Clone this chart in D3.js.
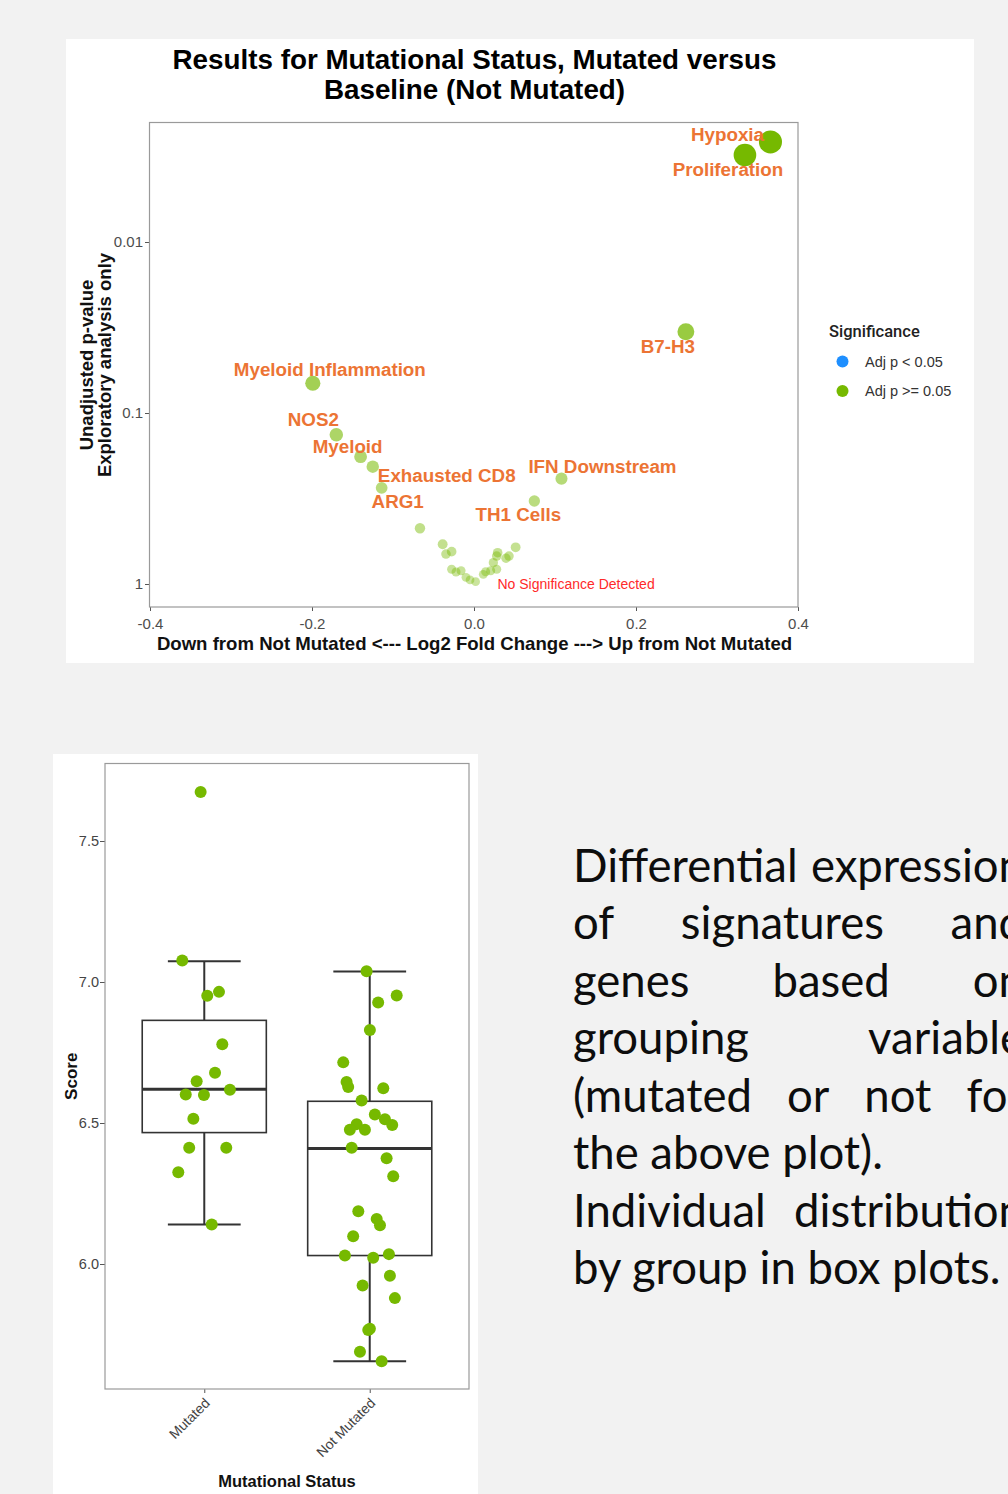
<!DOCTYPE html>
<html>
<head>
<meta charset="utf-8">
<script src="https://cdn.jsdelivr.net/npm/d3@7"></script>
<style>
  html, body { margin: 0; padding: 0; background: #f2f2f2; }
  svg { display: block; }
</style>
</head>
<body>
<svg id="chart" width="1008" height="1494"></svg>
<script>
// ---------------- DATA ----------------
// Volcano plot (Mutated vs Not Mutated)
const volcanoNames = ["Hypoxia","Proliferation","B7-H3","Myeloid Inflammation","NOS2","Myeloid",
  "Exhausted CD8","ARG1","IFN Downstream","TH1 Cells",
  "","","","","","","","","","","","","","","","","","","",""];
const volcanoLog2FC = [0.366, 0.3345, 0.2616, -0.199, -0.170, -0.140, -0.125, -0.114, 0.108, 0.0745,
  -0.0667, -0.0387, -0.0346, -0.0276, -0.0276, -0.0222, -0.016, -0.0099, -0.0049, 0.002,
  0.0115, 0.0144, 0.0206, 0.0239, 0.028, 0.0292, 0.028, 0.0395, 0.0432, 0.0514];
const volcanoPValues = [0.0026, 0.0031, 0.0335, 0.067, 0.134, 0.18, 0.206, 0.274, 0.242, 0.327,
  0.472, 0.586, 0.668, 0.647, 0.82, 0.851, 0.836, 0.914, 0.947, 0.969,
  0.878, 0.848, 0.836, 0.75, 0.686, 0.656, 0.82, 0.707, 0.686, 0.61];
const volcanoXTicks = [-0.4, -0.2, 0.0, 0.2, 0.4];
const volcanoYTicks = [0.01, 0.1, 1];
const legendLabels = ["Adj p < 0.05", "Adj p >= 0.05"];

// Box plot (Score by Mutational Status)
const groups = ["Mutated", "Not Mutated"];
const mutatedScores = [7.674, 7.076, 6.965, 6.951, 6.779, 6.648, 6.678, 6.601, 6.599, 6.618, 6.515, 6.412, 6.412, 6.325, 6.14];
const mutatedJitter = [-0.022, -0.133, 0.089, 0.018, 0.109, -0.046, 0.065, -0.112, -0.002, 0.155, -0.066, -0.091, 0.133, -0.157, 0.045];
const notMutatedScores = [7.038, 6.927, 6.952, 6.83, 6.715, 6.645, 6.628, 6.623, 6.58, 6.53, 6.513, 6.493, 6.496, 6.476, 6.476, 6.412,
  6.375, 6.311, 6.187, 6.16, 6.137, 6.098, 6.03, 6.022, 6.035, 5.958, 5.924, 5.879, 5.77, 5.766, 5.689, 5.655];
const notMutatedJitter = [-0.019, 0.051, 0.163, 0.001, -0.160, -0.140, -0.130, 0.082, -0.049, 0.031, 0.092, 0.136, -0.079, -0.120, -0.029, -0.109,
  0.102, 0.142, -0.069, 0.042, 0.062, -0.100, -0.150, 0.021, 0.116, 0.122, -0.043, 0.152, 0.001, -0.009, -0.059, 0.072];
const boxLower  = [6.14, 5.655];
const boxQ1     = [6.466, 6.03];
const boxMedian = [6.62, 6.41];
const boxQ3     = [6.864, 6.577];
const boxUpper  = [7.074, 7.037];
const scoreTicks = [6.0, 6.5, 7.0, 7.5];

// Side text
const paragraphLines = [
  ["Differential expression", true],
  ["of signatures and", true],
  ["genes based on", true],
  ["grouping variable", true],
  ["(mutated or not for", true],
  ["the above plot).", false],
  ["Individual distribution", true],
  ["by group in box plots.", false]
];

// ---------------- LAYOUT ----------------
const labelOffsets = {
  "Hypoxia": [-43, -1], "Proliferation": [-17, 21], "B7-H3": [-18, 21],
  "Myeloid Inflammation": [17, -7], "NOS2": [-23, -9], "Myeloid": [-13, -4],
  "Exhausted CD8": [74, 15], "ARG1": [16, 20], "IFN Downstream": [41, -6], "TH1 Cells": [-16, 20]
};
const GREEN = "#76b900", BLUE = "#1e8fff", ORANGE = "#ec7434";
const SANS = "'Liberation Sans', Arial, Helvetica, sans-serif";

const svg = d3.select("#chart");

// ================= VOLCANO =================
const volG = svg.append("g").attr("font-family", SANS);
volG.append("rect").attr("x", 66).attr("y", 39).attr("width", 908).attr("height", 624).attr("fill", "#fff");

const vx = d3.scaleLinear().domain([-0.4, 0.4]).range([150, 798]);
const vy = d3.scaleLog().domain([1, 0.01]).range([584, 242]);
const plotL = 149.5, plotR = 798, plotT = 122.5, plotB = 607;

volG.append("text").attr("x", 474.5).attr("y", 69).attr("text-anchor", "middle")
  .attr("font-size", 27.8).attr("font-weight", "bold").attr("fill", "#000")
  .text("Results for Mutational Status, Mutated versus");
volG.append("text").attr("x", 474.5).attr("y", 99).attr("text-anchor", "middle")
  .attr("font-size", 27.8).attr("font-weight", "bold").attr("fill", "#000")
  .text("Baseline (Not Mutated)");

const xAx = volG.append("g").attr("transform", `translate(0,${plotB})`)
  .call(d3.axisBottom(vx).tickValues(volcanoXTicks).tickFormat(d => d.toFixed(1)).tickSize(4).tickPadding(7.5));
const yAx = volG.append("g").attr("transform", `translate(${plotL - 0.5},0)`)
  .call(d3.axisLeft(vy).tickValues(volcanoYTicks).tickFormat(d => d3.format("~g")(d)).tickSize(4).tickPadding(2));
[xAx, yAx].forEach(a => {
  a.select(".domain").remove();
  a.selectAll(".tick line").attr("stroke", "#555");
  a.selectAll(".tick text").attr("font-size", 15).attr("fill", "#4d4d4d").attr("font-family", SANS);
});

const nlp = volcanoPValues.map(p => -Math.log10(p));
const vIdx = d3.range(volcanoNames.length).sort((a, b) => nlp[a] - nlp[b]);
volG.append("g").selectAll("circle").data(vIdx).join("circle")
  .attr("cx", i => vx(volcanoLog2FC[i]))
  .attr("cy", i => vy(volcanoPValues[i]))
  .attr("r", i => 4.3 + 2.8 * nlp[i])
  .attr("fill", GREEN)
  .attr("fill-opacity", i => Math.min(1, 0.38 + 0.62 * nlp[i] / 2.5));

volG.append("rect").attr("x", plotL).attr("y", plotT).attr("width", plotR - plotL).attr("height", plotB - plotT)
  .attr("fill", "none").attr("stroke", "#9a9a9a").attr("stroke-width", 1.2);

volG.append("g").selectAll("text").data(d3.range(volcanoNames.length).filter(i => volcanoNames[i] !== "")).join("text")
  .attr("x", i => vx(volcanoLog2FC[i]) + labelOffsets[volcanoNames[i]][0])
  .attr("y", i => vy(volcanoPValues[i]) + labelOffsets[volcanoNames[i]][1])
  .attr("text-anchor", "middle").attr("font-size", 18.8).attr("font-weight", "bold")
  .attr("fill", ORANGE).text(i => volcanoNames[i]);

volG.append("text").attr("x", vx(0.029)).attr("y", vy(1) + 4.5).attr("font-size", 14).attr("fill", "#ff2a2a")
  .text("No Significance Detected");

volG.append("text").attr("x", 474.5).attr("y", 650).attr("text-anchor", "middle")
  .attr("font-size", 18.6).attr("font-weight", "bold").attr("fill", "#111")
  .text("Down from Not Mutated <--- Log2 Fold Change ---> Up from Not Mutated");
const ytt = volG.append("text").attr("transform", "translate(0,365) rotate(-90)")
  .attr("text-anchor", "middle").attr("font-size", 18.5).attr("font-weight", "bold").attr("fill", "#111");
ytt.append("tspan").attr("x", 0).attr("y", 93).text("Unadjusted p-value");
ytt.append("tspan").attr("x", 0).attr("y", 111).text("Exploratory analysis only");

const lg = volG.append("g");
lg.append("text").attr("x", 829).attr("y", 337).attr("font-family", "Roboto, sans-serif").attr("font-weight", 500)
  .attr("font-size", 16.5).attr("fill", "#222").text("Significance");
legendLabels.forEach((t, i) => {
  lg.append("circle").attr("cx", 842.5).attr("cy", 361.5 + i * 29.5).attr("r", 6).attr("fill", i === 0 ? BLUE : GREEN);
  lg.append("text").attr("x", 865).attr("y", 361.5 + i * 29.5).attr("dy", "0.35em")
    .attr("font-size", 14.5).attr("fill", "#333").text(t);
});

// ================= BOX PLOT =================
const boxG = svg.append("g").attr("font-family", SANS);
boxG.append("rect").attr("x", 53).attr("y", 754).attr("width", 425).attr("height", 740).attr("fill", "#fff");

const bL = 105, bR = 469, bT = 763.5, bB = 1389;
const bx = d3.scalePoint().domain(groups).range([bL, bR]).padding(0.6);
const by = d3.scaleLinear().domain([6.0, 7.5]).range([1264, 841]);
const step = bx.step();

const byAx = boxG.append("g").attr("transform", `translate(${bL},0)`)
  .call(d3.axisLeft(by).tickValues(scoreTicks).tickFormat(d => d.toFixed(1)).tickSize(5).tickPadding(1));
const bxAx = boxG.append("g").attr("transform", `translate(0,${bB})`)
  .call(d3.axisBottom(bx).tickSize(4));
[byAx, bxAx].forEach(a => {
  a.select(".domain").remove();
  a.selectAll(".tick line").attr("stroke", "#555");
  a.selectAll(".tick text").attr("font-family", SANS).attr("fill", "#444");
});
byAx.selectAll(".tick text").attr("font-size", 14.5);
bxAx.selectAll(".tick text").attr("font-size", 14).attr("y", 0).attr("dy", 0)
  .attr("text-anchor", "end").attr("transform", "translate(6,15) rotate(-45)");

const boxes = boxG.append("g").attr("stroke", "#333").attr("fill", "#fff");
groups.forEach((g, i) => {
  const cx = bx(g), hw = 0.375 * step, cw = 0.22 * step;
  boxes.append("line").attr("x1", cx).attr("x2", cx).attr("y1", by(boxUpper[i])).attr("y2", by(boxQ3[i])).attr("stroke-width", 2);
  boxes.append("line").attr("x1", cx).attr("x2", cx).attr("y1", by(boxQ1[i])).attr("y2", by(boxLower[i])).attr("stroke-width", 2);
  boxes.append("line").attr("x1", cx - cw).attr("x2", cx + cw).attr("y1", by(boxUpper[i])).attr("y2", by(boxUpper[i])).attr("stroke-width", 2);
  boxes.append("line").attr("x1", cx - cw).attr("x2", cx + cw).attr("y1", by(boxLower[i])).attr("y2", by(boxLower[i])).attr("stroke-width", 2);
  boxes.append("rect").attr("x", cx - hw).attr("width", 2 * hw).attr("y", by(boxQ3[i]))
    .attr("height", by(boxQ1[i]) - by(boxQ3[i])).attr("stroke-width", 1.6);
  boxes.append("line").attr("x1", cx - hw).attr("x2", cx + hw).attr("y1", by(boxMedian[i])).attr("y2", by(boxMedian[i])).attr("stroke-width", 3);
});

const pts = [];
mutatedScores.forEach((v, i) => pts.push({ g: groups[0], v, j: mutatedJitter[i] }));
notMutatedScores.forEach((v, i) => pts.push({ g: groups[1], v, j: notMutatedJitter[i] }));
boxG.append("g").selectAll("circle").data(pts).join("circle")
  .attr("cx", d => bx(d.g) + d.j * step).attr("cy", d => by(d.v)).attr("r", 6).attr("fill", GREEN);

boxG.append("rect").attr("x", bL).attr("y", bT).attr("width", bR - bL).attr("height", bB - bT)
  .attr("fill", "none").attr("stroke", "#9a9a9a").attr("stroke-width", 1.2);

boxG.append("text").attr("x", (bL + bR) / 2).attr("y", 1487).attr("text-anchor", "middle")
  .attr("font-size", 16.5).attr("font-weight", "bold").attr("fill", "#111").text("Mutational Status");
boxG.append("text").attr("transform", `translate(77,${(bT + bB) / 2}) rotate(-90)`).attr("text-anchor", "middle")
  .attr("font-size", 17).attr("font-weight", "bold").attr("fill", "#111").text("Score");

// ================= SIDE TEXT =================
const para = svg.append("g").attr("font-family", "Lato, 'Open Sans', sans-serif").attr("fill", "#0d0d0d");
const probe = para.append("text").attr("font-size", 48).text("the above plot).");
const fs = 48 * 310 / probe.node().getComputedTextLength();
probe.remove();
const pX0 = 573, pX1 = 1024, pY0 = 881.7, pLH = 57.5;
paragraphLines.forEach(([line, justify], li) => {
  const words = line.split(" ");
  const y = pY0 + li * pLH;
  if (!justify || words.length < 2) {
    para.append("text").attr("x", pX0).attr("y", y).attr("font-size", fs).text(line);
    return;
  }
  const nodes = words.map(w => para.append("text").attr("y", y).attr("font-size", fs).text(w));
  const widths = nodes.map(n => n.node().getComputedTextLength());
  const gap = (pX1 - pX0 - d3.sum(widths)) / (words.length - 1);
  let x = pX0;
  nodes.forEach((n, k) => { n.attr("x", x); x += widths[k] + gap; });
});
</script>
</body>
</html>
